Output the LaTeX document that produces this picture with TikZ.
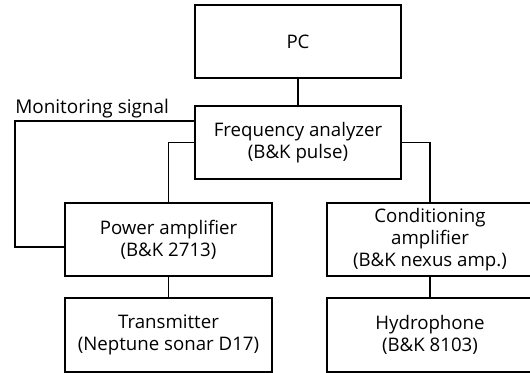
\documentclass[tikz,border=0pt]{standalone}
\usepackage{fontspec}
\setmainfont{Open Sans}
\usepackage{tikz}
\usetikzlibrary{positioning,calc}

\begin{document}
\begin{tikzpicture}[x=0.75pt,y=-0.75pt,
      box/.style={draw=black,line width=1.4pt,minimum width=155pt,minimum height=55pt,inner sep=0pt,align=center,font=\fontsize{14}{16.5}\selectfont},
      lbl/.style={inner sep=0pt,font=\fontsize{14.2}{16}\selectfont},
      wire/.style={draw=black,line width=1.4pt}]
    \useasboundingbox (0,0) rectangle (530,372);
    \clip (0,0) rectangle (530,372);
    \node[box] (pc) at (298,41.5) {PC};
    \node[box] (fa) at (298,142.5) {Frequency analyzer\\(B\&K pulse)};
    \node[box] (pa) at (168.5,239.5) {Power amplifier\\(B\&K 2713)};
    \node[box] (tx) at (168.5,335) {Transmitter\\(Neptune sonar D17)};
    \node[box] (ca) at (430,239.5) {Conditioning\\amplifier\\(B\&K nexus amp.)};
    \node[box] (hy) at (430,335) {Hydrophone\\(B\&K 8103)};
    \coordinate (mtop) at (15,121);
    \coordinate (mbot) at (15,247);
    \node[lbl,anchor=base west] (mon) at (15,113) {Monitoring signal};
    \draw[wire] (pc) -- (fa);
    \draw[wire] (fa.west) -| (pa.north);
    \draw[wire] (fa.east) -| (ca.north);
    \draw[wire] (pa) -- (tx);
    \draw[wire] (ca) -- (hy);
    \draw[wire] (fa.west |- mtop) -- (mtop) -- (mbot) -- (pa.west |- mbot);
  \end{tikzpicture}
\end{document}
